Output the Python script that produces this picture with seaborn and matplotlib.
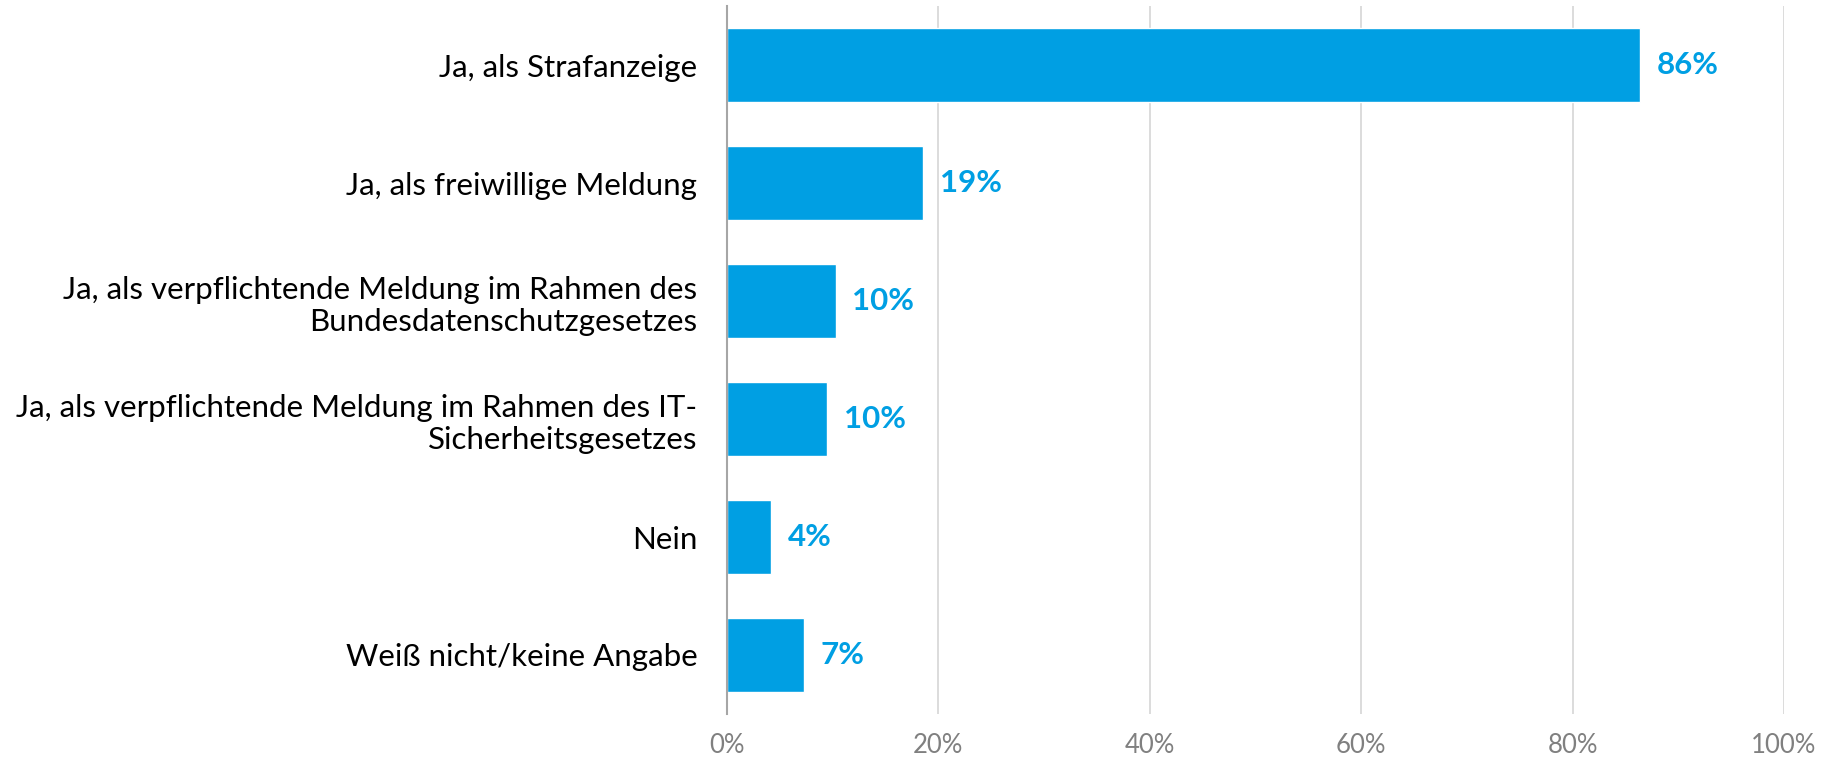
import matplotlib
matplotlib.use("Agg")
import matplotlib.pyplot as plt
import seaborn as sns
import pandas as pd
from matplotlib.ticker import PercentFormatter

categories = [
    "Ja, als Strafanzeige",
    "Ja, als freiwillige Meldung",
    "Ja, als verpflichtende Meldung im Rahmen des\nBundesdatenschutzgesetzes",
    "Ja, als verpflichtende Meldung im Rahmen des IT-\nSicherheitsgesetzes",
    "Nein",
    "Weiß nicht/keine Angabe",
]
values = [0.864, 0.186, 0.103, 0.095, 0.042, 0.073]
value_labels = ["86%", "19%", "10%", "10%", "4%", "7%"]
xticks = [0.0, 0.2, 0.4, 0.6, 0.8, 1.0]

blue = "#009FE3"

sns.set_style("white")
plt.rcParams['font.family'] = ['Lato', 'DejaVu Sans']

df = pd.DataFrame({"kategorie": categories, "anteil": values})

fig = plt.figure(figsize=(18.35, 7.59), dpi=100)
ax = fig.add_axes([0.396, 0.0593, 0.9722 - 0.396, 0.992 - 0.0593])

sns.barplot(data=df, x="anteil", y="kategorie", color=blue, saturation=1,
            width=0.627, ax=ax, zorder=3)

ax.bar_label(ax.containers[0], labels=value_labels, padding=12,
             color=blue, fontsize=22.5, fontweight="bold")

ax.set_xlim(0, 1.0)
ax.set_ylim(5.5, -0.5)
ax.set_xticks(xticks)
ax.xaxis.set_major_formatter(PercentFormatter(1.0, decimals=0))
ax.grid(axis="x", color="#D9D9D9", linewidth=1.3, zorder=0)
ax.set_axisbelow(True)

for s in ["top", "right", "bottom"]:
    ax.spines[s].set_visible(False)
ax.spines["left"].set_color("#A6A6A6")
ax.spines["left"].set_linewidth(1.5)
ax.spines["left"].set_zorder(4)

ax.tick_params(axis="x", length=0, pad=14, labelsize=18.5, labelcolor="#808080")
ax.tick_params(axis="y", length=0, pad=21, labelsize=22.5, labelcolor="#000000")
for t in ax.get_yticklabels():
    t.set_linespacing(1.2)

ax.set_xlabel("")
ax.set_ylabel("")

fig.savefig("out.png", dpi=100)
